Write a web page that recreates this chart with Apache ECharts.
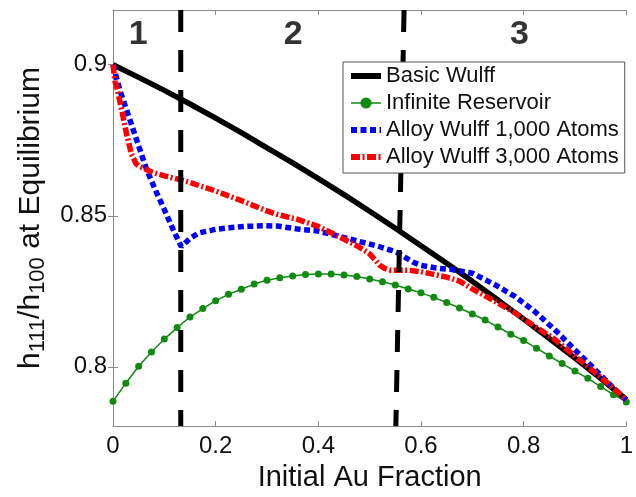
<!DOCTYPE html>
<html>
<head>
<meta charset="utf-8">
<script src="https://cdn.jsdelivr.net/npm/echarts@6/dist/echarts.min.js"></script>
<style>
html,body{margin:0;padding:0;background:#fff;}
#chart{width:636px;height:497px;}
</style>
</head>
<body>
<div id="chart"></div>
<script>
// ---- data ----
const xTicks = [0, 0.2, 0.4, 0.6, 0.8, 1];
const yTicks = [0.8, 0.85, 0.9];
const yMin = 0.7804, yMax = 0.9181;

const seriesNames = ['Basic Wulff', 'Infinite Reservoir', 'Alloy Wulff 1,000 Atoms', 'Alloy Wulff 3,000 Atoms'];

const basicX = [0, 0.05, 0.1, 0.15, 0.2, 0.25, 0.3, 0.35, 0.4, 0.45, 0.5, 0.55, 0.6, 0.65, 0.7, 0.75, 0.8, 0.85, 0.9, 0.95, 1];
const basicY = [0.900, 0.8958, 0.8915, 0.8870, 0.8823, 0.8775, 0.8725, 0.8675, 0.8623, 0.8570, 0.8515, 0.8459, 0.8401, 0.8343, 0.8283, 0.8221, 0.8158, 0.8094, 0.8029, 0.7962, 0.7892];

const reservoirX = [0, 0.025, 0.05, 0.075, 0.1, 0.125, 0.15, 0.175, 0.2, 0.225, 0.25, 0.275, 0.3, 0.325, 0.35, 0.375, 0.4, 0.425, 0.45, 0.475, 0.5, 0.525, 0.55, 0.575, 0.6, 0.625, 0.65, 0.675, 0.7, 0.725, 0.75, 0.775, 0.8, 0.825, 0.85, 0.875, 0.9, 0.925, 0.95, 0.975, 1];
const reservoirY = [0.7886, 0.7946, 0.8002, 0.8049, 0.8092, 0.8130, 0.8165, 0.8193, 0.8219, 0.8240, 0.8257, 0.8274, 0.8287, 0.8295, 0.8301, 0.8306, 0.8307, 0.8307, 0.8304, 0.8299, 0.8291, 0.8282, 0.8271, 0.8258, 0.8245, 0.8230, 0.8213, 0.8195, 0.8175, 0.8155, 0.8132, 0.8108, 0.8087, 0.8062, 0.8036, 0.8011, 0.7986, 0.7962, 0.7935, 0.7908, 0.7884];

const alloy1000X = [0, 0.0135, 0.033, 0.049, 0.065, 0.084, 0.1, 0.117, 0.133, 0.15, 0.167, 0.2, 0.231, 0.26, 0.296, 0.321, 0.36, 0.398, 0.4365, 0.475, 0.513, 0.552, 0.584, 0.6, 0.63, 0.66, 0.7, 0.744, 0.783, 0.821, 0.86, 0.898, 0.937, 0.975, 1];
const alloy1000Y = [0.900, 0.8915, 0.8817, 0.8736, 0.8655, 0.8580, 0.8520, 0.8455, 0.8398, 0.8425, 0.8443, 0.8455, 0.8461, 0.8465, 0.8467, 0.8466, 0.8456, 0.8450, 0.8434, 0.8417, 0.8401, 0.8380, 0.8347, 0.8336, 0.8327, 0.8322, 0.8310, 0.8272, 0.8233, 0.8184, 0.8124, 0.8059, 0.7995, 0.7930, 0.7890];

const alloy3000X = [0, 0.004, 0.01, 0.017, 0.026, 0.036, 0.045, 0.05, 0.075, 0.1, 0.125, 0.15, 0.2, 0.25, 0.3, 0.321, 0.36, 0.398, 0.4365, 0.475, 0.5, 0.51, 0.52, 0.53, 0.54, 0.575, 0.6, 0.625, 0.65, 0.675, 0.7, 0.744, 0.783, 0.821, 0.86, 0.898, 0.937, 0.975, 1];
const alloy3000Y = [0.900, 0.8945, 0.8905, 0.8850, 0.8774, 0.8704, 0.8672, 0.8665, 0.8645, 0.8632, 0.8622, 0.8610, 0.8582, 0.8550, 0.8516, 0.8504, 0.8488, 0.8466, 0.8434, 0.8401, 0.8374, 0.8355, 0.8336, 0.8325, 0.8320, 0.8320, 0.8315, 0.8306, 0.8297, 0.8284, 0.8258, 0.8217, 0.8179, 0.8135, 0.8092, 0.8038, 0.7984, 0.7930, 0.7890];

const boundaryTopX = [0.132, 0.567];
const boundaryBottomX = [0.132, 0.551];

const regionNames = ['1', '2', '3'];
const regionX = [0.049, 0.351, 0.792];
const regionY = [0.9101, 0.9101, 0.9101];

// ---- build ----
const pairs = (xs, ys) => xs.map((x, i) => [x, ys[i]]);
const FONT = '"Liberation Sans", Arial, sans-serif';
const frameColor = '#8a8a8a';
const textColor = '#111';
const colors = ['#000000', '#108a10', '#0000ff', '#ff0000'];
const dashes = ['solid', 'solid', [6, 3.5], [9, 2.5, 2, 2.5]];
const widths = [5.5, 1.5, 5.5, 5.5];

const chart = echarts.init(document.getElementById('chart'), null, {renderer: 'canvas'});

const boundarySeries = boundaryTopX.map((tx, i) => ({
  type: 'line',
  name: 'boundary' + i,
  data: [[tx, yMax], [boundaryBottomX[i], yMin]],
  symbol: 'none',
  silent: true,
  z: 5,
  lineStyle: {color: '#000', width: 5, type: [22, 18], cap: 'butt'}
}));

const legendData = seriesNames.map((n, i) => ({
  name: n,
  itemStyle: i === 1 ? {color: colors[1]} : {opacity: 0, color: colors[i]},
  lineStyle: {color: colors[i], width: i === 1 ? 1.5 : 6, type: dashes[i], cap: 'butt', opacity: 1}
}));

const option = {
  animation: false,
  backgroundColor: '#fff',
  textStyle: {fontFamily: FONT},
  grid: {left: 113, right: 3, top: 10, bottom: 61, containLabel: false},
  xAxis: [{
    type: 'value', min: 0, max: 1, interval: 0.2,
    name: 'Initial Au Fraction', nameLocation: 'middle', nameGap: 26,
    nameTextStyle: {fontSize: 29, color: textColor, fontFamily: FONT},
    axisLine: {show: true, lineStyle: {color: frameColor, width: 1}},
    axisTick: {show: true, inside: true, length: 5, lineStyle: {color: frameColor}},
    axisLabel: {fontSize: 24, color: textColor, margin: 8, fontFamily: FONT},
    splitLine: {show: false}
  }, {
    type: 'value', min: 0, max: 1, interval: 0.2, position: 'top',
    axisLine: {show: true, lineStyle: {color: frameColor, width: 1}},
    axisTick: {show: true, inside: true, length: 5, lineStyle: {color: frameColor}},
    axisLabel: {show: false}, splitLine: {show: false}
  }],
  yAxis: [{
    type: 'value', min: yMin, max: yMax,
    name: '{h|h}{s|111}{h|/h}{s|100}{h| at Equilibrium}',
    nameLocation: 'middle', nameGap: 62,
    nameTextStyle: {
      color: textColor, fontFamily: FONT,
      rich: {
        h: {fontSize: 30, lineHeight: 38, color: textColor, fontFamily: FONT},
        s: {fontSize: 22, lineHeight: 22, verticalAlign: 'bottom', color: textColor, fontFamily: FONT}
      }
    },
    axisLine: {show: true, lineStyle: {color: frameColor, width: 1}},
    axisTick: {show: true, inside: true, length: 5, customValues: yTicks, lineStyle: {color: frameColor}},
    axisLabel: {fontSize: 24, color: textColor, margin: 6, customValues: yTicks, fontFamily: FONT},
    splitLine: {show: false}
  }, {
    type: 'value', min: yMin, max: yMax, position: 'right',
    axisLine: {show: true, lineStyle: {color: frameColor, width: 1}},
    axisTick: {show: true, inside: true, length: 5, customValues: yTicks, lineStyle: {color: frameColor}},
    axisLabel: {show: false}, splitLine: {show: false}
  }],
  legend: {
    data: legendData,
    orient: 'vertical',
    left: 343, top: 62,
    padding: [3, 6, 5, 5],
    itemGap: 5,
    itemWidth: 30, itemHeight: 14,
    backgroundColor: '#fff',
    borderColor: '#555', borderWidth: 1,
    textStyle: {fontSize: 22, lineHeight: 22, color: textColor, fontFamily: FONT},
    z: 10
  },
  series: seriesNames.map((n, i) => ({
    type: 'line', name: n,
    data: [pairs(basicX, basicY), pairs(reservoirX, reservoirY), pairs(alloy1000X, alloy1000Y), pairs(alloy3000X, alloy3000Y)][i],
    symbol: i === 1 ? 'circle' : 'none',
    symbolSize: 7,
    z: 2 + (i > 1 ? i - 1 : 0),
    itemStyle: {color: colors[i]},
    lineStyle: {color: colors[i], width: widths[i], type: dashes[i], cap: 'butt'}
  })).concat(boundarySeries).concat([{
    type: 'scatter', name: 'regions',
    data: regionX.map((x, i) => [x, regionY[i], regionNames[i]]),
    symbolSize: 1, itemStyle: {color: 'rgba(0,0,0,0)'}, silent: true, z: 6,
    label: {
      show: true, position: 'inside',
      formatter: p => p.value[2],
      fontSize: 34, fontWeight: 'bold', color: '#000', fontFamily: FONT
    }
  }])
};
chart.setOption(option);
</script>
</body>
</html>
